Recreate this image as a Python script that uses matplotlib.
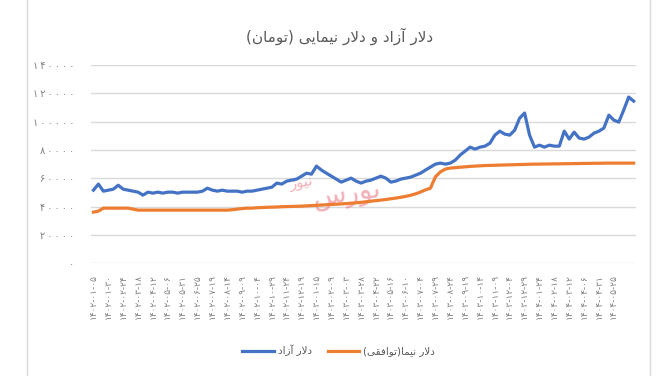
import matplotlib
matplotlib.use("Agg")
import matplotlib.pyplot as plt

# free market dollar (toman), one value per ~5 days
azad = [51600, 55900, 50900, 51600, 52300, 55100, 52300, 51600, 50900, 50200,
        48100, 50200, 49500, 50200, 49500, 50200, 50200, 49500, 50200, 50200,
        50200, 50200, 50900, 53000, 51600, 50900, 51600, 50900, 50900, 50900,
        50200, 50900, 50900, 51600, 52300, 53000, 53700, 56600, 55900, 58000,
        58700, 59400, 61500, 63600, 62900, 68600, 65800, 63600, 61500, 59400,
        57300, 58700, 60100, 58000, 56600, 58000, 58700, 60100, 61500, 60100,
        57300, 58000, 59400, 60100, 60800, 62200, 63600, 65800, 67900, 70000,
        70700, 70000, 70700, 72800, 76400, 79200, 82000, 80600, 82000, 82700,
        84800, 90500, 93300, 91200, 90500, 94000, 102500, 106100, 90500, 82000,
        83400, 82000, 83400, 82700, 82700, 93300, 87700, 92600, 88400, 87700,
        89100, 91900, 93300, 95500, 104600, 101100, 99700, 108200, 117400, 114500]

# NIMA / agreed-rate dollar (toman)
nima = [36100, 36800, 38900, 38900, 38900, 38900, 38900, 38900, 38200, 37500,
        37500, 37500, 37500, 37500, 37500, 37500, 37500, 37500, 37500, 37500,
        37500, 37500, 37500, 37500, 37500, 37500, 37500, 37500, 37800, 38200,
        38600, 38900, 38900, 39200, 39300, 39500, 39600, 39700, 39900, 40000,
        40100, 40200, 40300, 40500, 40700, 40900, 41100, 41300, 41500, 41700,
        41900, 42100, 42400, 42700, 43000, 43400, 43800, 44200, 44600, 45000,
        45500, 46000, 46600, 47200, 48000, 49000, 50300, 51800, 53000, 61000,
        64500, 66500, 67200, 67500, 67800, 68100, 68400, 68600, 68800, 69000,
        69100, 69200, 69300, 69400, 69500, 69600, 69700, 69800, 69900, 70000,
        70000, 70100, 70100, 70200, 70200, 70300, 70300, 70400, 70400, 70500,
        70500, 70600, 70600, 70700, 70700, 70700, 70700, 70700, 70700, 70700]

date_labels = ["1402-01-05", "1402-01-30", "1402-02-24", "1402-03-18", "1402-04-12",
               "1402-05-06", "1402-05-31", "1402-06-25", "1402-07-19", "1402-08-14",
               "1402-09-09", "1402-10-04", "1402-10-29", "1402-11-24", "1402-12-19",
               "1403-01-15", "1403-02-09", "1403-03-03", "1403-03-28", "1403-04-22",
               "1403-05-16", "1403-06-10", "1403-07-04", "1403-07-29", "1403-08-24",
               "1403-09-19", "1403-10-14", "1403-11-09", "1403-12-04", "1403-12-29",
               "1404-01-24", "1404-02-18", "1404-03-12", "1404-04-06", "1404-04-31",
               "1404-05-25"]

y_ticks = [0, 20000, 40000, 60000, 80000, 100000, 120000, 140000]

title_text = "دلار آزاد و دلار نیمایی (تومان)"
legend_names = ["دلار آزاد", "دلار نیما(توافقی)"]
watermark = ["بورس", "نیوز"]

FA_DIGITS = str.maketrans("0123456789", "۰۱۲۳۴۵۶۷۸۹")

# presentation forms: (isolated, final, initial, medial)
FORMS = {
    'ا': ('\uFE8D', '\uFE8E'), 'آ': ('\uFE81', '\uFE82'),
    'د': ('\uFEA9', '\uFEAA'), 'ر': ('\uFEAD', '\uFEAE'),
    'ز': ('\uFEAF', '\uFEB0'), 'و': ('\uFEED', '\uFEEE'),
    'ب': ('\uFE8F', '\uFE90', '\uFE91', '\uFE92'),
    'ت': ('\uFE95', '\uFE96', '\uFE97', '\uFE98'),
    'س': ('\uFEB1', '\uFEB2', '\uFEB3', '\uFEB4'),
    'ف': ('\uFED1', '\uFED2', '\uFED3', '\uFED4'),
    'ق': ('\uFED5', '\uFED6', '\uFED7', '\uFED8'),
    'ل': ('\uFEDD', '\uFEDE', '\uFEDF', '\uFEE0'),
    'م': ('\uFEE1', '\uFEE2', '\uFEE3', '\uFEE4'),
    'ن': ('\uFEE5', '\uFEE6', '\uFEE7', '\uFEE8'),
    'ی': ('\uFEEF', '\uFEF0', '\uFEF3', '\uFEF4'),
}
LAM_ALEF = {'ا': ('\uFEFB', '\uFEFC'), 'آ': ('\uFEF5', '\uFEF6')}


def shape(text):
    out = []
    i = 0
    n = len(text)
    while i < n:
        c = text[i]
        prev = text[i - 1] if i > 0 else ''
        joins_prev = prev in FORMS and len(FORMS[prev]) == 4
        if c == 'ل' and i + 1 < n and text[i + 1] in LAM_ALEF:
            out.append(LAM_ALEF[text[i + 1]][1 if joins_prev else 0])
            i += 2
            continue
        if c in FORMS:
            f = FORMS[c]
            nxt = text[i + 1] if i + 1 < n else ''
            joins_next = len(f) == 4 and nxt in FORMS
            if joins_prev and joins_next:
                out.append(f[3])
            elif joins_prev:
                out.append(f[1])
            elif joins_next:
                out.append(f[2])
            else:
                out.append(f[0])
        else:
            out.append(c)
        i += 1
    vis = ''.join(reversed(out))
    return vis.translate(str.maketrans("()", ")("))


def fa_num(v):
    # persian digits, spread out a little like the original
    return '\u2009'.join(str(v).translate(FA_DIGITS))


plt.rcParams['font.family'] = ['DejaVu Sans']

fig = plt.figure(figsize=(6.64, 3.76), dpi=100)
ax = fig.add_axes([0.137, 0.30, 0.821, 0.527])

x = list(range(len(azad)))
ax.plot(x, azad, color='#4472C4', linewidth=2.3, label=shape(legend_names[0]), zorder=3)
ax.plot(x, nima, color='#ED7D31', linewidth=2.3, label=shape(legend_names[1]), zorder=3)

ax.set_xlim(-0.5, len(azad) - 0.5)
ax.set_ylim(0, 140000)
ax.set_yticks(y_ticks)
ax.set_yticklabels([fa_num(v) for v in y_ticks], fontsize=7, color='#7f7f7f')
ax.yaxis.grid(True, color='#d9d9d9', linewidth=1)
ax.set_axisbelow(True)

tick_pos = list(range(0, len(azad), 3))[:len(date_labels)]
ax.set_xticks(tick_pos)
ax.set_xticklabels([d.translate(FA_DIGITS) for d in date_labels], rotation=90,
                   fontsize=6.5, color='#7f7f7f')
ax.tick_params(axis='y', length=0, pad=12)
ax.tick_params(axis='x', length=0, pad=8)
for s in ax.spines.values():
    s.set_visible(False)

fig.text(0.512, 0.902, shape(title_text), ha='center', va='center', fontsize=11, color='#595959')

# watermark
ax.text(51, 49000, shape(watermark[0]), fontsize=20, color='#e8707e', alpha=0.55,
        ha='center', va='center', rotation=8, zorder=2)
ax.text(42, 57000, shape(watermark[1]), fontsize=11, color='#e8707e', alpha=0.55,
        ha='center', va='center', rotation=10, zorder=2)

fig.legend(loc='center', bbox_to_anchor=(0.51, 0.068), ncol=2, frameon=False,
           fontsize=7.5, handlelength=3.0, columnspacing=1.5, handletextpad=0.4,
           labelcolor='#595959')

# chart-area frame
fig.add_artist(plt.Line2D([0.041, 0.041], [0, 1], color='#d9d9d9', linewidth=1))
fig.add_artist(plt.Line2D([0.979, 0.979], [0, 1], color='#d9d9d9', linewidth=1))

fig.savefig('out.png', dpi=100)
